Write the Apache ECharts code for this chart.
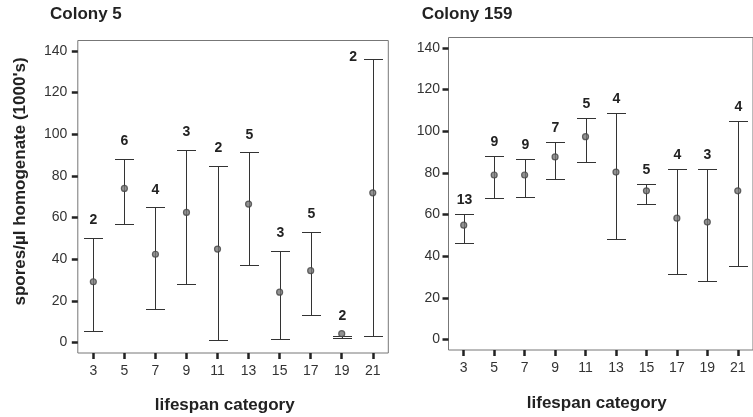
<!DOCTYPE html>
<html><head><meta charset="utf-8">
<script src="https://cdn.jsdelivr.net/npm/echarts@6/dist/echarts.min.js"></script>
<style>html,body{margin:0;padding:0;background:#fff}#c{width:753px;height:417px}</style>
</head><body><div id="c"></div>
<script>
// ---- data ----
const categories = ['3','5','7','9','11','13','15','17','19','21'];
const c5Mean = [29.2, 74.0, 42.4, 62.5, 44.9, 66.5, 24.2, 34.5, 4.3, 71.9];
const c5Low  = [5.6, 56.9, 16.2, 28.3, 1.1, 37.4, 1.8, 13.4, 2.0, 3.1];
const c5High = [50.3, 88.0, 64.9, 92.5, 84.9, 91.3, 44.0, 53.1, 3.0, 136.0];
const c5N    = [2, 6, 4, 3, 2, 5, 3, 5, 2, 2];
const c159Mean = [54.9, 79.0, 79.0, 87.7, 97.4, 80.4, 71.4, 58.3, 56.4, 71.4];
const c159Low  = [46.2, 67.8, 68.5, 76.9, 85.3, 48.2, 65.0, 31.3, 27.9, 35.2];
const c159High = [60.5, 88.0, 86.7, 95.0, 106.3, 108.7, 74.5, 82.0, 82.0, 104.9];
const c159N    = [13, 9, 9, 7, 5, 4, 5, 4, 3, 4];
const yTicks = [0, 20, 40, 60, 80, 100, 120, 140];
const titles = ['Colony 5', 'Colony 159'];
const xTitle = 'lifespan category';
const yTitle = "spores/µl homogenate (1000's)";

// ---- rendering ----
const FONT = '"Liberation Sans", Arial, Helvetica, sans-serif';
const chart = echarts.init(document.getElementById('c'), null, {renderer: 'canvas'});

function errorSeries(gi, mean, low, high, n, labelGap) {
  return {
    type: 'custom', xAxisIndex: gi, yAxisIndex: gi, clip: false, z: 2,
    data: categories.map((c, i) => [i, low[i], high[i], mean[i], n[i]]),
    encode: {x: 0, y: [1, 2]},
    renderItem(params, api) {
      const i = api.value(0);
      const lo = api.coord([i, api.value(1)]);
      const hi = api.coord([i, api.value(2)]);
      const mc = api.coord([i, api.value(3)]);
      const x = Math.round(lo[0]) + 0.5;
      const yHi = Math.round(hi[1]) + 0.5, yLo = Math.round(lo[1]) + 0.5;
      const half = 9.5;
      const st = {stroke: '#333', lineWidth: 1};
      const children = [
        {type: 'line', shape: {x1: x, y1: yHi, x2: x, y2: yLo}, style: st},
        {type: 'line', shape: {x1: x - half, y1: yHi, x2: x + half, y2: yHi}, style: st},
        {type: 'line', shape: {x1: x - half, y1: yLo, x2: x + half, y2: yLo}, style: st}
      ];
      const rect = params.coordSys;
      const topY = Math.min(hi[1], mc[1]);
      let tx = x, ty = topY - labelGap, align = 'center';
      if (ty - 8 < rect.y) { tx = x - half - 7; ty = hi[1] - 2; align = 'right'; }
      children.push({type: 'text', style: {
        text: String(api.value(4)), x: tx, y: ty, align: align, verticalAlign: 'middle',
        font: 'bold 14px ' + FONT, fill: '#222'}});
      return {type: 'group', children: children};
    }
  };
}

function meanSeries(gi, mean) {
  return {
    type: 'scatter', xAxisIndex: gi, yAxisIndex: gi, z: 3,
    data: mean.map((v, i) => [i, v]),
    symbol: 'circle', symbolSize: 6,
    itemStyle: {color: '#777', borderColor: '#444', borderWidth: 1.2},
    emphasis: {disabled: true}
  };
}

function xAxisDef(gi) {
  return {
    type: 'category', gridIndex: gi, data: categories, boundaryGap: true,
    axisLine: {show: false, onZero: false},
    axisTick: {show: true, alignWithLabel: true, length: 6, lineStyle: {color: '#222', width: 2.5}},
    axisLabel: {color: '#333', fontSize: 14, fontFamily: FONT, margin: 11, interval: 0},
    splitLine: {show: false}
  };
}
function yAxisDef(gi, margin) {
  return {
    type: 'value', gridIndex: gi, min: -5, max: 145,
    axisLine: {show: false, onZero: false},
    axisTick: {show: true, length: 6, customValues: yTicks, lineStyle: {color: '#222', width: 2.5}},
    axisLabel: {color: '#333', fontSize: 14, fontFamily: FONT, margin: margin, customValues: yTicks},
    splitLine: {show: false}
  };
}

const option = {
  animation: false,
  backgroundColor: '#fff',
  grid: [
    {left: 77.8, top: 40.5, width: 310.5, height: 312.5, show: true, borderColor: '#777', borderWidth: 1, containLabel: false},
    {left: 448.5, top: 37.5, width: 310, height: 312.5, show: true, borderColor: '#777', borderWidth: 1, containLabel: false}
  ],
  xAxis: [xAxisDef(0), xAxisDef(1)],
  yAxis: [yAxisDef(0, 10.5), yAxisDef(1, 8.5)],
  series: [
    errorSeries(0, c5Mean, c5Low, c5High, c5N, 17.7),
    meanSeries(0, c5Mean),
    errorSeries(1, c159Mean, c159Low, c159High, c159N, 13.8),
    meanSeries(1, c159Mean)
  ],
  graphic: [
    {type: 'text', x: 50, y: 14.5, style: {text: titles[0], font: 'bold 17px ' + FONT, fill: '#222', verticalAlign: 'middle', align: 'left'}},
    {type: 'text', x: 421.7, y: 14.5, style: {text: titles[1], font: 'bold 17px ' + FONT, fill: '#222', verticalAlign: 'middle', align: 'left'}},
    {type: 'text', x: 224.7, y: 405, style: {text: xTitle, font: 'bold 17px ' + FONT, fill: '#222', verticalAlign: 'middle', align: 'center'}},
    {type: 'text', x: 596.7, y: 403, style: {text: xTitle, font: 'bold 17px ' + FONT, fill: '#222', verticalAlign: 'middle', align: 'center'}},
    {type: 'text', x: 20, y: 181.5, rotation: Math.PI / 2, style: {text: yTitle, font: 'bold 17px ' + FONT, fill: '#222', verticalAlign: 'middle', align: 'center'}}
  ]
};
chart.setOption(option);
</script>
</body></html>
